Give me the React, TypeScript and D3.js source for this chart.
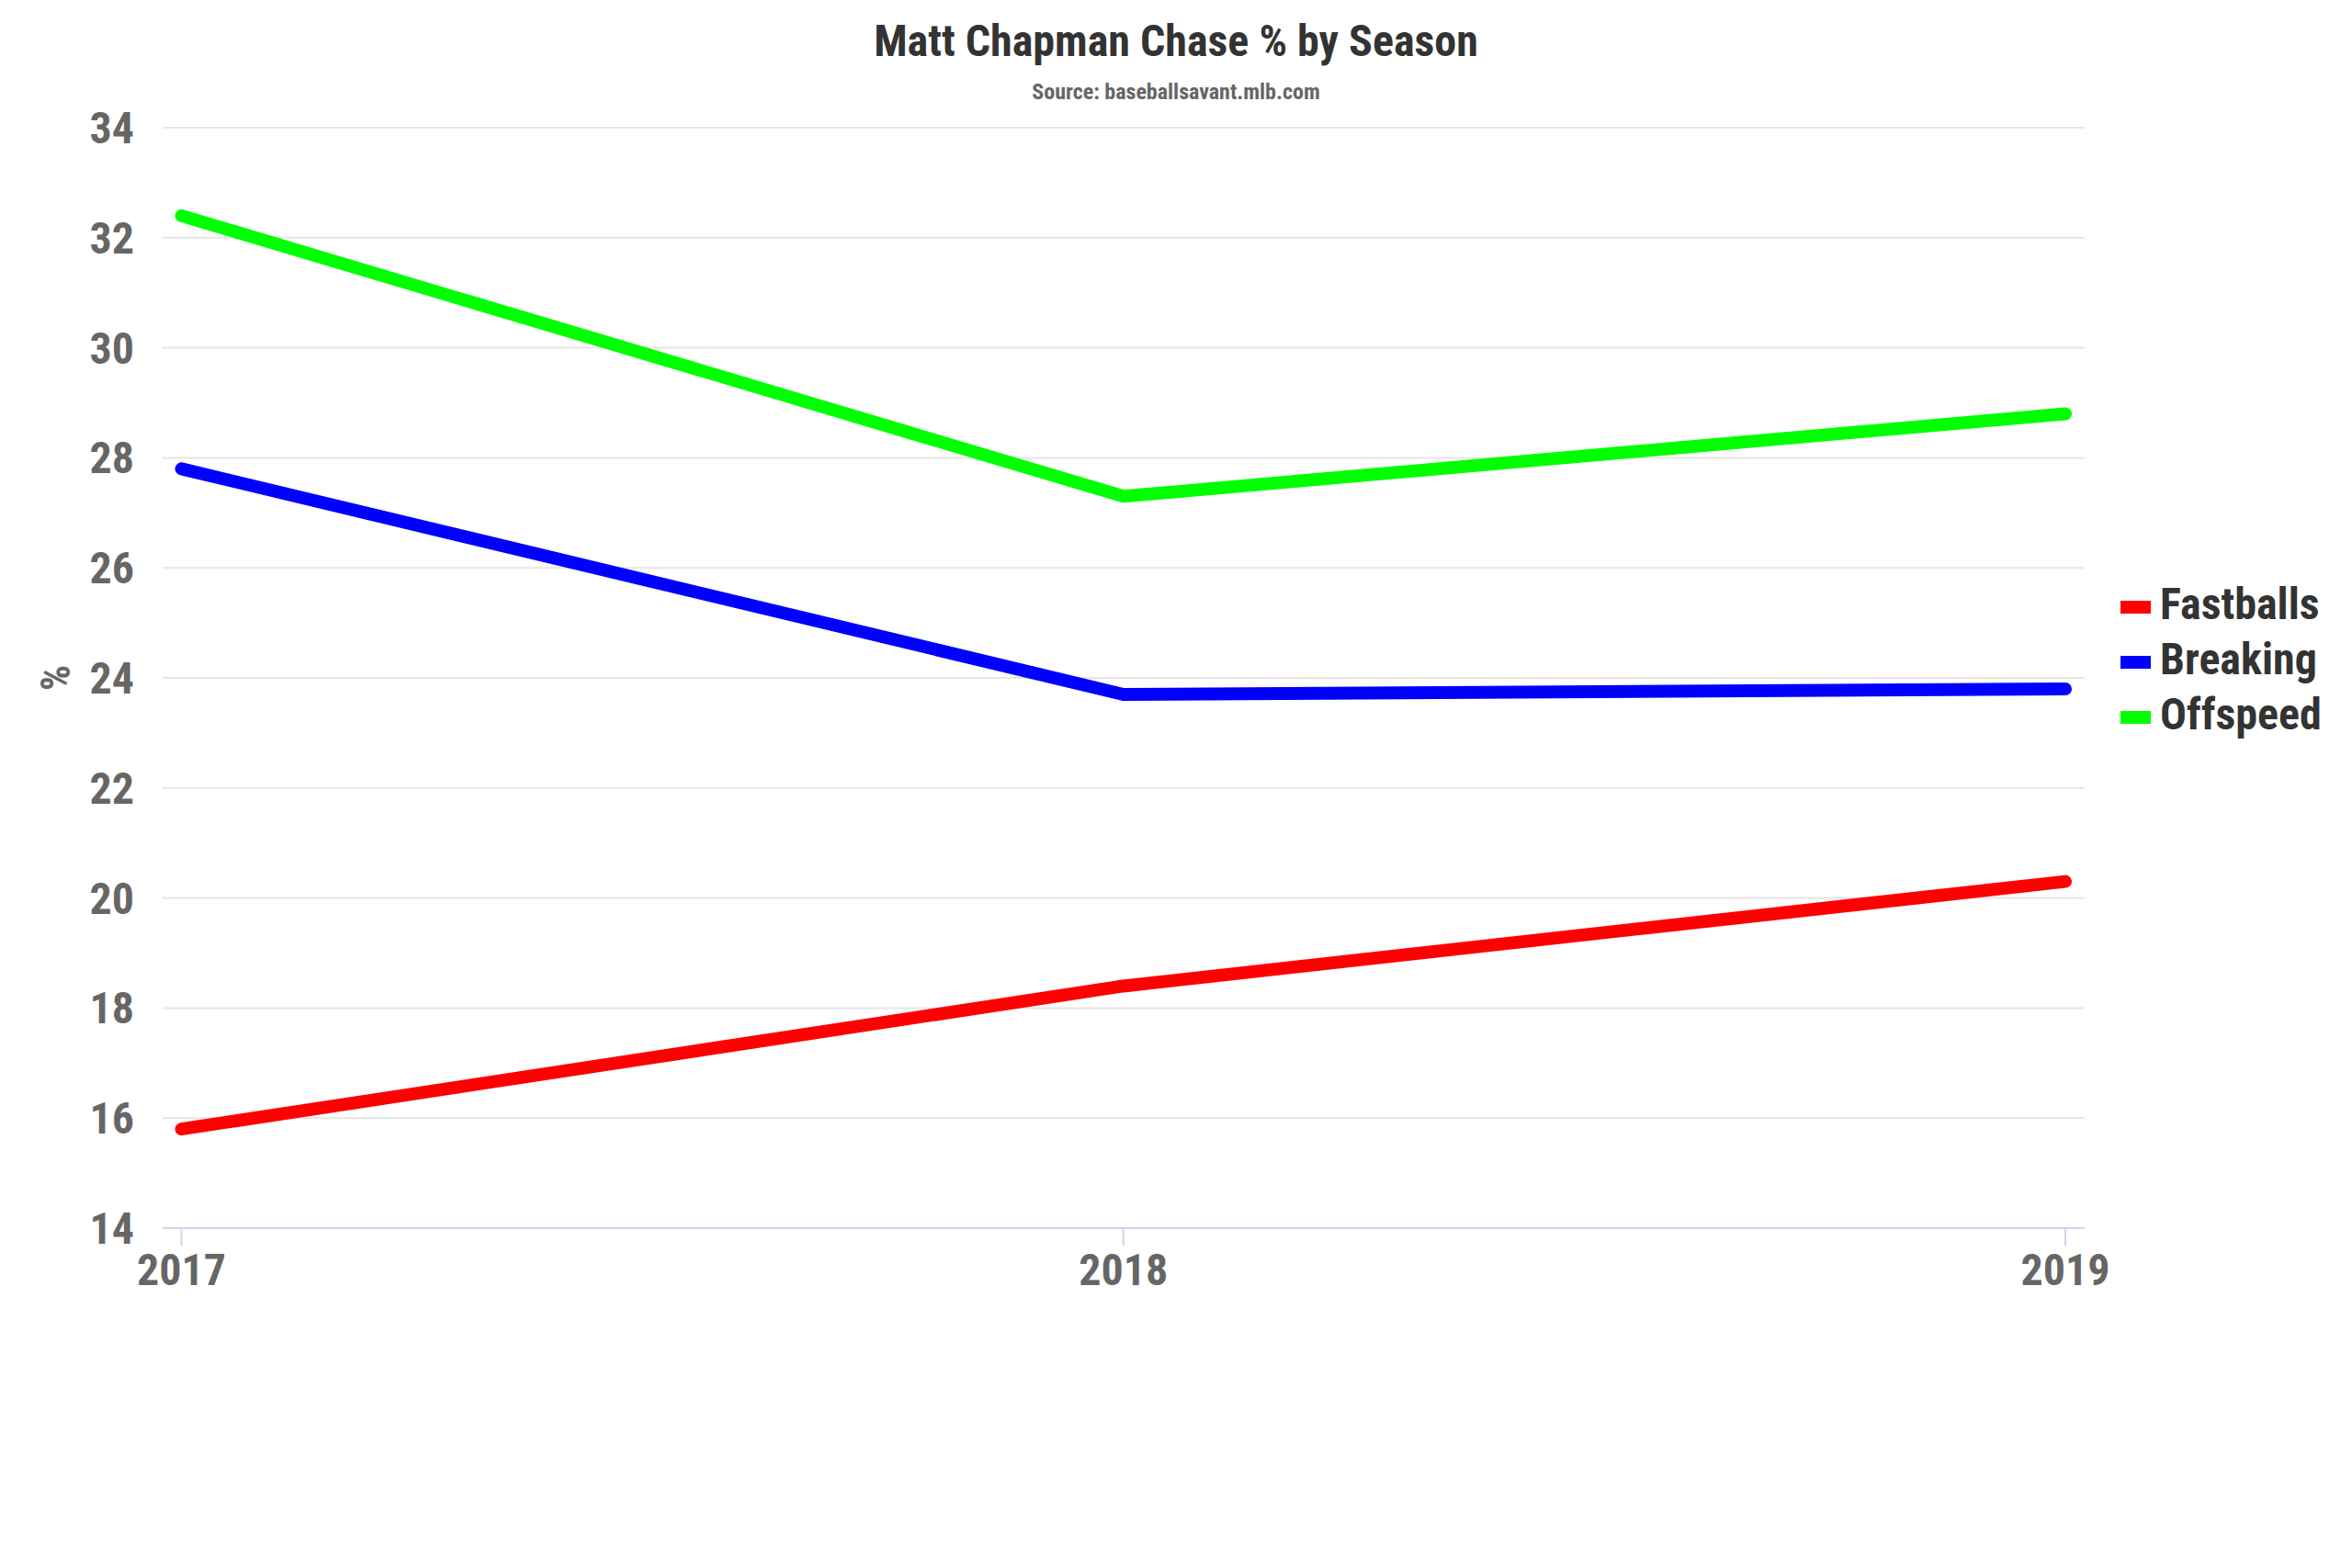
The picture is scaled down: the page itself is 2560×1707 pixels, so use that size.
import React, { useRef, useEffect } from "react";
import * as d3 from "d3";

const seasons = ["2017", "2018", "2019"];
const seriesNames = ["Fastballs", "Breaking", "Offspeed"];
const fastballs = [15.8, 18.4, 20.3];
const breaking = [27.8, 23.7, 23.8];
const offspeed = [32.4, 27.3, 28.8];
const yTicks = [14, 16, 18, 20, 22, 24, 26, 28, 30, 32, 34];
const colors = ["#ff0000", "#0000ff", "#00ff00"];

const FONT = '"Roboto Condensed", "Roboto", sans-serif';

const App: React.FC = () => {
  const chartRef = useRef<SVGSVGElement | null>(null);

  useEffect(() => {
    if (!chartRef.current) return;
    const width = 2560;
    const height = 1707;
    const plot = { left: 177, right: 2269, top: 139, bottom: 1337 };

    const svg = d3.select(chartRef.current);
    svg.selectAll("*").remove();
    svg.attr("width", width).attr("height", height);

    svg
      .append("rect")
      .attr("width", width)
      .attr("height", height)
      .attr("fill", "#ffffff");

    const x = d3
      .scalePoint<string>()
      .domain(seasons)
      .range([plot.left + 20.5, plot.right - 21]);

    const y = d3
      .scaleLinear()
      .domain([14, 34])
      .range([plot.bottom, plot.top]);

    // grid lines
    svg
      .append("g")
      .selectAll("line")
      .data(yTicks.filter((t) => t !== 14))
      .join("line")
      .attr("x1", plot.left)
      .attr("x2", plot.right)
      .attr("y1", (d) => y(d))
      .attr("y2", (d) => y(d))
      .attr("stroke", "#e6e6e6")
      .attr("stroke-width", 2);

    // y labels
    svg
      .append("g")
      .selectAll("text")
      .data(yTicks)
      .join("text")
      .attr("x", plot.left - 31)
      .attr("y", (d) => y(d) + 17)
      .attr("text-anchor", "end")
      .attr("fill", "#666666")
      .style("font-family", FONT)
      .style("font-stretch", "condensed")
      .style("font-weight", 700)
      .style("font-size", "48px")
      .text((d) => d);

    // y axis title
    svg
      .append("text")
      .attr("transform", `translate(${76},${(plot.top + plot.bottom) / 2}) rotate(-90)`)
      .attr("text-anchor", "middle")
      .attr("fill", "#666666")
      .style("font-family", FONT)
      .style("font-stretch", "condensed")
      .style("font-weight", 700)
      .style("font-size", "44px")
      .text("%");

    // x axis
    const xAxis = svg.append("g");
    xAxis
      .append("line")
      .attr("x1", plot.left)
      .attr("x2", plot.right)
      .attr("y1", plot.bottom)
      .attr("y2", plot.bottom)
      .attr("stroke", "#ccd6eb")
      .attr("stroke-width", 2);
    xAxis
      .selectAll("line.tick")
      .data(seasons)
      .join("line")
      .attr("class", "tick")
      .attr("x1", (d) => x(d)!)
      .attr("x2", (d) => x(d)!)
      .attr("y1", plot.bottom)
      .attr("y2", plot.bottom + 19)
      .attr("stroke", "#ccd6eb")
      .attr("stroke-width", 2);
    xAxis
      .selectAll("text")
      .data(seasons)
      .join("text")
      .attr("x", (d) => x(d)!)
      .attr("y", plot.bottom + 62)
      .attr("text-anchor", "middle")
      .attr("fill", "#666666")
      .style("font-family", FONT)
      .style("font-stretch", "condensed")
      .style("font-weight", 700)
      .style("font-size", "48px")
      .text((d) => d);

    // lines
    const allSeries = [fastballs, breaking, offspeed];
    const line = d3
      .line<number>()
      .x((_, i) => x(seasons[i])!)
      .y((d) => y(d));

    svg
      .append("g")
      .selectAll("path")
      .data(allSeries)
      .join("path")
      .attr("d", (d) => line(d))
      .attr("fill", "none")
      .attr("stroke", (_, i) => colors[i])
      .attr("stroke-width", 14)
      .attr("stroke-linecap", "round")
      .attr("stroke-linejoin", "round");

    // title
    svg
      .append("text")
      .attr("x", width / 2)
      .attr("y", 61)
      .attr("text-anchor", "middle")
      .attr("fill", "#333333")
      .style("font-family", FONT)
      .style("font-stretch", "condensed")
      .style("font-weight", 700)
      .style("font-size", "48px")
      .text("Matt Chapman Chase % by Season");

    svg
      .append("text")
      .attr("x", width / 2)
      .attr("y", 108)
      .attr("text-anchor", "middle")
      .attr("fill", "#666666")
      .style("font-family", FONT)
      .style("font-stretch", "condensed")
      .style("font-weight", 700)
      .style("font-size", "24px")
      .text("Source: baseballsavant.mlb.com");

    // legend
    const legend = svg
      .append("g")
      .selectAll("g")
      .data(seriesNames)
      .join("g")
      .attr("transform", (_, i) => `translate(2308,${674 + i * 60})`);
    legend
      .append("rect")
      .attr("x", 0)
      .attr("y", -20)
      .attr("width", 33)
      .attr("height", 14)
      .attr("fill", (_, i) => colors[i]);
    legend
      .append("text")
      .attr("x", 43)
      .attr("y", 0)
      .attr("fill", "#333333")
      .style("font-family", FONT)
      .style("font-stretch", "condensed")
      .style("font-weight", 700)
      .style("font-size", "48px")
      .text((d) => d);
  }, []);

  return (
    <svg
      ref={chartRef}
      style={{ position: "absolute", left: 0, top: 0, display: "block" }}
    ></svg>
  );
};

export default App;
